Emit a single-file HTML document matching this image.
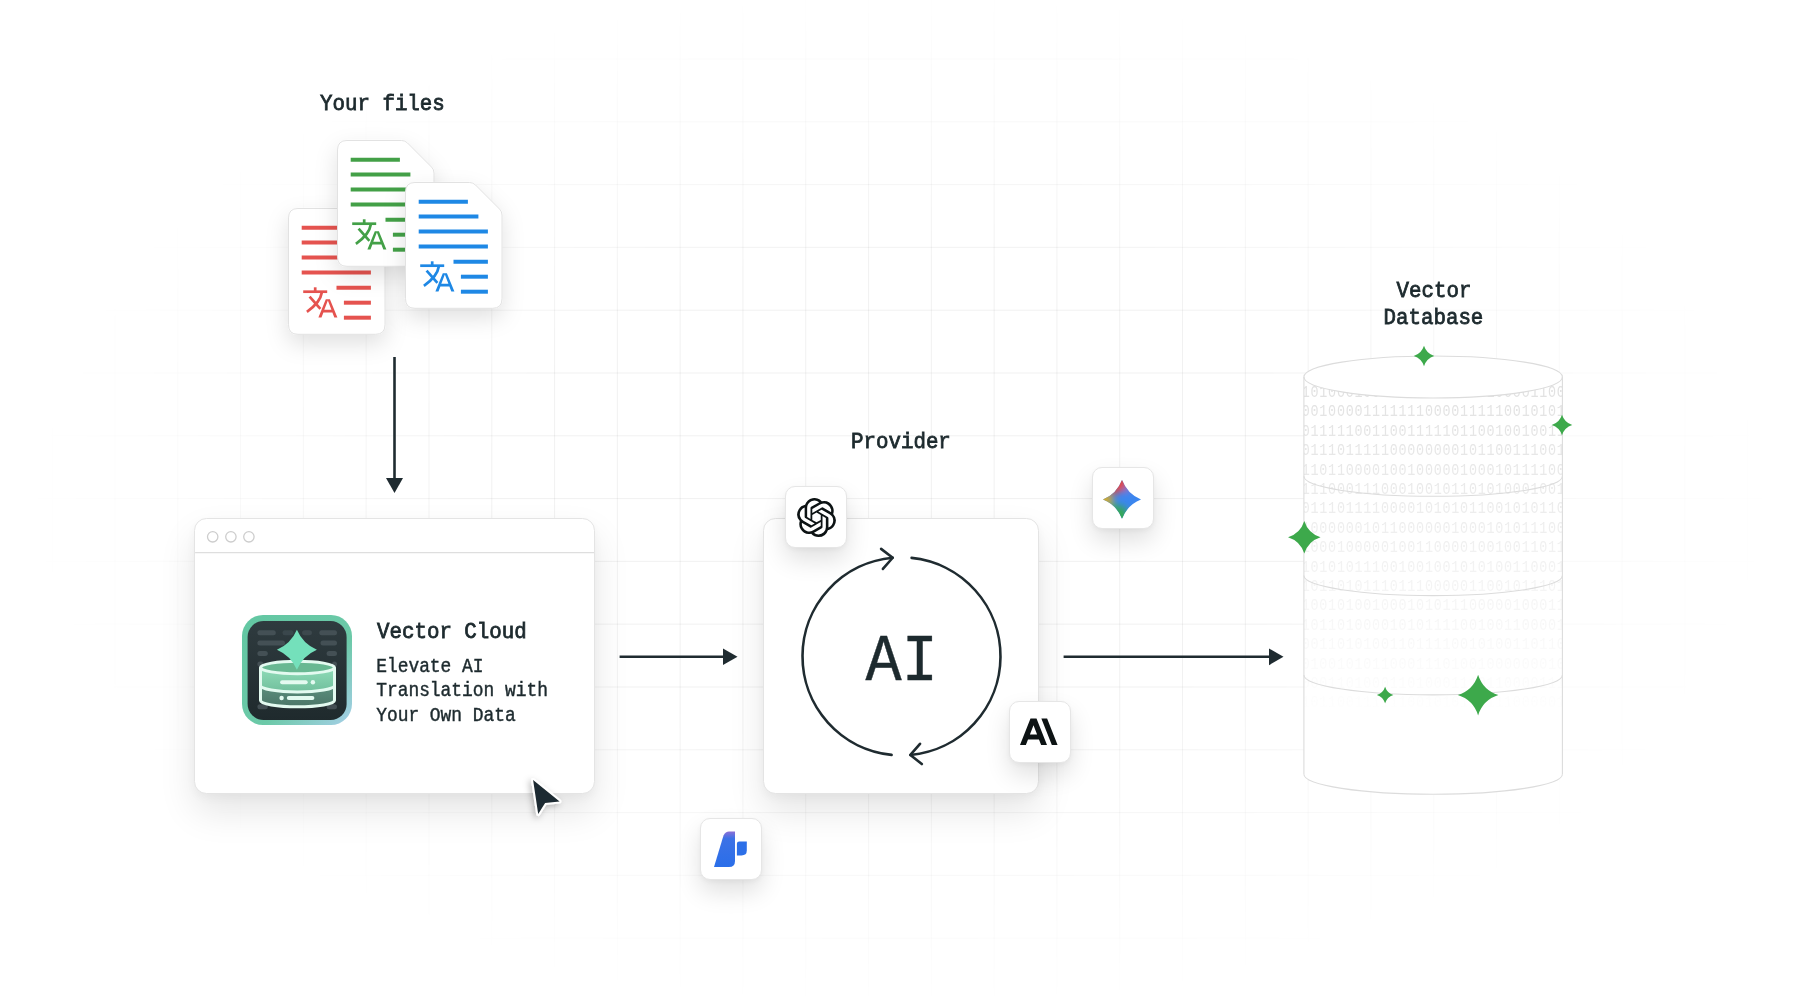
<!DOCTYPE html>
<html>
<head>
<meta charset="utf-8">
<style>
*{margin:0;padding:0;box-sizing:border-box;}
html,body{width:1800px;height:996px;overflow:hidden;background:#ffffff;}
body{position:relative;font-family:"Liberation Mono",monospace;color:#1d2a2e;}
.abs{position:absolute;}
#grid{position:absolute;left:0;top:0;width:1800px;height:996px;
 background-image:linear-gradient(to right,rgba(0,0,0,0.055) 1.3px,transparent 1.3px),linear-gradient(to bottom,rgba(0,0,0,0.055) 1.3px,transparent 1.3px);
 background-size:62.8px 62.8px;background-position:51.7px 58.5px;
 -webkit-mask-image:radial-gradient(ellipse 880px 520px at 900px 500px,#000 45%,transparent 100%);
 mask-image:radial-gradient(ellipse 880px 520px at 900px 500px,#000 45%,transparent 100%);}
.lbl{position:absolute;font-weight:normal;-webkit-text-stroke:0.75px #1d2a2e;font-size:20.8px;line-height:1;white-space:pre;transform-origin:0 0;}
.card{position:absolute;background:#fff;border:1px solid #e4e4e4;border-radius:12.5px;box-shadow:0 18px 36px rgba(0,0,0,0.10),0 4px 10px rgba(0,0,0,0.035);}
.tile{position:absolute;width:62px;height:62px;background:#fff;border:1px solid #e6e6e6;border-radius:10px;box-shadow:0 12px 24px rgba(0,0,0,0.12),0 2px 5px rgba(0,0,0,0.04);}
.tile svg{position:absolute;}
.file{position:absolute;}
</style>
</head>
<body>
<div id="grid"></div>

<!-- Your files -->
<div class="lbl" id="t_files" style="left:320px;top:93.1px;transform:scaleY(1.1);">Your files</div>

<!-- files -->
<div id="files"><svg width="0" height="0" style="position:absolute"><defs><filter id="fsh" x="-50%" y="-50%" width="200%" height="200%"><feDropShadow dx="0" dy="9" stdDeviation="11" flood-color="#000" flood-opacity="0.12"/></filter><filter id="csh" x="-50%" y="-50%" width="200%" height="200%"><feDropShadow dx="-2" dy="2" stdDeviation="3" flood-color="#000" flood-opacity="0.25"/></filter></defs></svg><svg class="file" style="left:267.6px;top:187.8px;overflow:visible" width="137.5" height="166.8" viewBox="-20 -20 137.5 166.8"><path d="M10,0.5 H64.5 Q68.0,0.5 70.5,3 L94.5,27 Q97.0,29.5 97.0,33 V116.8 Q97.0,126.3 87.5,126.3 H10 Q0.5,126.3 0.5,116.8 V10 Q0.5,0.5 10,0.5 Z" fill="#fff" stroke="#e2e2e2" stroke-width="1" filter="url(#fsh)"/><g stroke="#E5534F" stroke-width="4" fill="none"><line x1="13.7" y1="19.7" x2="62.9" y2="19.7"/><line x1="13.7" y1="34.6" x2="73.4" y2="34.6"/><line x1="13.7" y1="49.6" x2="82.9" y2="49.6"/><line x1="13.7" y1="64.6" x2="82.9" y2="64.6"/><line x1="48.5" y1="79.7" x2="82.9" y2="79.7"/><line x1="55.9" y1="94.7" x2="82.9" y2="94.7"/><line x1="55.9" y1="109.7" x2="82.9" y2="109.7"/></g><g stroke="#E5534F" stroke-width="2.7" fill="none" stroke-linecap="butt"><line x1="15.2" y1="83.7" x2="39.2" y2="83.7"/><line x1="27.2" y1="79.3" x2="27.2" y2="83"/><path d="M33.8 84.5 C32.7 92.2 26.2 98.7 18.9 103.8"/><line x1="21.6" y1="88.6" x2="32.4" y2="100.8"/></g><path fill="#E5534F" d="M37.8 91.3 H41.9 L49.4 109.4 H46.3 L44.4 104.4 H35.4 L33.5 109.4 H30.4 Z M36.3 101.8 H43.4 L39.85 92.6 Z" fill-rule="evenodd"/></svg><svg class="file" style="left:316.6px;top:120px;overflow:visible" width="137.5" height="166.8" viewBox="-20 -20 137.5 166.8"><path d="M10,0.5 H64.5 Q68.0,0.5 70.5,3 L94.5,27 Q97.0,29.5 97.0,33 V116.8 Q97.0,126.3 87.5,126.3 H10 Q0.5,126.3 0.5,116.8 V10 Q0.5,0.5 10,0.5 Z" fill="#fff" stroke="#e2e2e2" stroke-width="1" filter="url(#fsh)"/><g stroke="#43A047" stroke-width="4" fill="none"><line x1="13.7" y1="19.7" x2="62.9" y2="19.7"/><line x1="13.7" y1="34.6" x2="73.4" y2="34.6"/><line x1="13.7" y1="49.6" x2="82.9" y2="49.6"/><line x1="13.7" y1="64.6" x2="82.9" y2="64.6"/><line x1="48.5" y1="79.7" x2="82.9" y2="79.7"/><line x1="55.9" y1="94.7" x2="82.9" y2="94.7"/><line x1="55.9" y1="109.7" x2="82.9" y2="109.7"/></g><g stroke="#43A047" stroke-width="2.7" fill="none" stroke-linecap="butt"><line x1="15.2" y1="83.7" x2="39.2" y2="83.7"/><line x1="27.2" y1="79.3" x2="27.2" y2="83"/><path d="M33.8 84.5 C32.7 92.2 26.2 98.7 18.9 103.8"/><line x1="21.6" y1="88.6" x2="32.4" y2="100.8"/></g><path fill="#43A047" d="M37.8 91.3 H41.9 L49.4 109.4 H46.3 L44.4 104.4 H35.4 L33.5 109.4 H30.4 Z M36.3 101.8 H43.4 L39.85 92.6 Z" fill-rule="evenodd"/></svg><svg class="file" style="left:384.8px;top:161.5px;overflow:visible" width="137.5" height="166.8" viewBox="-20 -20 137.5 166.8"><path d="M10,0.5 H64.5 Q68.0,0.5 70.5,3 L94.5,27 Q97.0,29.5 97.0,33 V116.8 Q97.0,126.3 87.5,126.3 H10 Q0.5,126.3 0.5,116.8 V10 Q0.5,0.5 10,0.5 Z" fill="#fff" stroke="#e2e2e2" stroke-width="1" filter="url(#fsh)"/><g stroke="#1E88E5" stroke-width="4" fill="none"><line x1="13.7" y1="19.7" x2="62.9" y2="19.7"/><line x1="13.7" y1="34.6" x2="73.4" y2="34.6"/><line x1="13.7" y1="49.6" x2="82.9" y2="49.6"/><line x1="13.7" y1="64.6" x2="82.9" y2="64.6"/><line x1="48.5" y1="79.7" x2="82.9" y2="79.7"/><line x1="55.9" y1="94.7" x2="82.9" y2="94.7"/><line x1="55.9" y1="109.7" x2="82.9" y2="109.7"/></g><g stroke="#1E88E5" stroke-width="2.7" fill="none" stroke-linecap="butt"><line x1="15.2" y1="83.7" x2="39.2" y2="83.7"/><line x1="27.2" y1="79.3" x2="27.2" y2="83"/><path d="M33.8 84.5 C32.7 92.2 26.2 98.7 18.9 103.8"/><line x1="21.6" y1="88.6" x2="32.4" y2="100.8"/></g><path fill="#1E88E5" d="M37.8 91.3 H41.9 L49.4 109.4 H46.3 L44.4 104.4 H35.4 L33.5 109.4 H30.4 Z M36.3 101.8 H43.4 L39.85 92.6 Z" fill-rule="evenodd"/></svg></div>

<!-- down arrow -->
<svg class="abs" style="left:380px;top:350px" width="30" height="150" viewBox="380 350 30 150">
 <line x1="394.5" y1="357" x2="394.5" y2="480" stroke="#1f2b30" stroke-width="2.6"/>
 <path d="M386 478 L403 478 L394.5 493 Z" fill="#1f2b30"/>
</svg>

<!-- Browser card -->
<div class="card" style="left:194px;top:518px;width:401px;height:276px;"></div>

<!-- browser header -->
<svg class="abs" style="left:194.4px;top:518px" width="400" height="40" viewBox="-0.6 0 400 40">
 <circle cx="18.1" cy="18.8" r="5.2" fill="none" stroke="#cdcdcd" stroke-width="1.3"/>
 <circle cx="36.3" cy="18.8" r="5.2" fill="none" stroke="#cdcdcd" stroke-width="1.3"/>
 <circle cx="54.3" cy="18.8" r="5.2" fill="none" stroke="#cdcdcd" stroke-width="1.3"/>
 <line x1="0.5" y1="34.6" x2="400" y2="34.6" stroke="#dedede" stroke-width="1.2"/>
</svg>
<!-- app icon -->
<svg class="abs" style="left:241px;top:614px" width="112" height="112" viewBox="0 0 112 112">
 <defs>
  <filter id="pblur" x="-20%" y="-50%" width="140%" height="200%"><feGaussianBlur stdDeviation="0.6"/></filter>
  <linearGradient id="ibrd" x1="0" y1="0" x2="1" y2="1">
   <stop offset="0" stop-color="#62c7a2"/>
   <stop offset="0.6" stop-color="#6cc9a8"/>
   <stop offset="1" stop-color="#a6cfe8"/>
  </linearGradient>
  <linearGradient id="idark" x1="0" y1="0" x2="0" y2="1">
   <stop offset="0" stop-color="#2f3b3f"/>
   <stop offset="1" stop-color="#1f2a2d"/>
  </linearGradient>
  <linearGradient id="icyl1" x1="0" y1="0" x2="0" y2="1">
   <stop offset="0" stop-color="#8fdcb8"/>
   <stop offset="1" stop-color="#5fae8c"/>
  </linearGradient>
  <linearGradient id="icyl2" x1="0" y1="0" x2="0" y2="1">
   <stop offset="0" stop-color="#5c8f7d"/>
   <stop offset="1" stop-color="#4b7668"/>
  </linearGradient>
 </defs>
 <rect x="1" y="1" width="110" height="110" rx="21" fill="url(#ibrd)"/>
 <rect x="6.6" y="7" width="99" height="99" rx="16" fill="url(#idark)"/>
 <g fill="#48555a" opacity="0.85" filter="url(#pblur)">
  <rect x="16.4" y="16.2" width="18.4" height="5" rx="2.5"/>
  <rect x="41.5" y="16.2" width="11" height="5" rx="2.5" opacity="0.6"/>
  <rect x="61.1" y="16.2" width="9.8" height="5" rx="2.5" opacity="0.7"/>
  <rect x="78.3" y="16.2" width="17.7" height="5" rx="2.5"/>
  <rect x="16.4" y="26.6" width="27.6" height="5" rx="2.5"/>
  <rect x="79.5" y="26.6" width="16.5" height="5" rx="2.5"/>
  <rect x="16.4" y="37" width="10.4" height="5" rx="2.5"/>
  <rect x="85.6" y="37" width="10.4" height="5" rx="2.5"/>
  <rect x="16.4" y="47.4" width="6" height="5" rx="2.5"/>
  <rect x="91" y="47.4" width="5" height="5" rx="2.5"/>
  <rect x="16.4" y="90.3" width="10.4" height="5" rx="2.5"/>
  <rect x="85.6" y="90.3" width="10.4" height="5" rx="2.5"/>
 </g>
 <!-- cylinder -->
 <path d="M19.5 53.5 V 86.5 A 37 6.3 0 0 0 93.5 86.5 V 53.5 Z" fill="url(#icyl1)"/>
 <path d="M19.5 71.5 V 86.5 A 37 6.3 0 0 0 93.5 86.5 V 71.5 A 37 6.5 0 0 1 19.5 71.5 Z" fill="url(#icyl2)"/>
 <ellipse cx="56.5" cy="53.5" rx="37" ry="6.2" fill="#68b892"/>
 <g fill="none" stroke="#e3faf0" stroke-width="3">
  <ellipse cx="56.5" cy="53.5" rx="37" ry="6.2"/>
  <path d="M19.5 53.5 V 86.5 A 37 6.3 0 0 0 93.5 86.5 V 53.5"/>
  <path d="M19.5 71.5 A 37 6.5 0 0 0 93.5 71.5"/>
 </g>
 <path d="M55.90 15.80 Q61.90 29.80 75.90 35.80 Q61.90 41.80 55.90 55.80 Q49.90 41.80 35.90 35.80 Q49.90 29.80 55.90 15.80 Z" fill="#74e0bb"/>
 <g fill="#e3faf0">
  <rect x="39.1" y="66.3" width="27.6" height="4" rx="2"/>
  <circle cx="71.9" cy="68.3" r="2.2"/>
  <rect x="45.8" y="82" width="27.6" height="4" rx="2"/>
  <circle cx="40.6" cy="84" r="2.2"/>
 </g>
</svg>
<div class="lbl" id="t_vc" style="left:377px;top:621px;transform:scaleY(1.1);">Vector Cloud</div>
<div class="abs" id="desc" style="left:376.2px;top:654.8px;font-size:17.9px;line-height:22.31px;white-space:pre;transform-origin:0 0;transform:scaleY(1.08);-webkit-text-stroke:0.4px #1d2a2e;">Elevate AI
Translation with
Your Own Data</div>
<!-- cursor -->
<svg class="abs" style="left:525px;top:772px;overflow:visible" width="45" height="50" viewBox="525 772 45 50">
 <path d="M533.1 780.1 L559.6 801.4 L545.1 803 L538.2 814.1 Z" fill="#1f2b30" stroke="#fff" stroke-width="4" stroke-linejoin="round" paint-order="stroke" filter="url(#csh)"/>
</svg>

<!-- Provider card -->
<div class="card" style="left:763px;top:518px;width:276px;height:276px;"></div>

<!-- circle arrows -->
<svg class="abs" style="left:780px;top:530px" width="240" height="250" viewBox="780 530 240 250">
 <g fill="none" stroke="#1f2b30" stroke-width="2.6" stroke-linecap="round" stroke-linejoin="round">
  <path d="M891.6 754.85 A99 99 0 0 1 892.7 557.74"/>
  <path d="M881.1 548.9 L892.7 557.74 L882.9 568.9"/>
  <path d="M911.6 557.87 A99 99 0 0 1 910.4 754.95"/>
  <path d="M920 743.8 L910.4 754.95 L921.8 764"/>
 </g>
</svg>
<div class="abs" id="ai" style="left:865.6px;top:629px;transform:scaleY(1.1);font-size:60.2px;-webkit-text-stroke:0.4px #1d2a2e;line-height:1;white-space:pre;transform-origin:0 0;">AI</div>
<!-- tiles -->
<div class="tile" style="left:785px;top:486px;">
 <svg style="left:10.6px;top:11px" width="39" height="39" viewBox="0 0 24 24"><path fill="#0d1314" d="M22.2819 9.8211a5.9847 5.9847 0 0 0-.5157-4.9108 6.0462 6.0462 0 0 0-6.5098-2.9A6.0651 6.0651 0 0 0 4.9807 4.1818a5.9847 5.9847 0 0 0-3.9977 2.9 6.0462 6.0462 0 0 0 .7427 7.0966 5.98 5.98 0 0 0 .511 4.9107 6.051 6.051 0 0 0 6.5146 2.9001A5.9847 5.9847 0 0 0 13.2599 24a6.0557 6.0557 0 0 0 5.7718-4.2058 5.9894 5.9894 0 0 0 3.9977-2.9001 6.0557 6.0557 0 0 0-.7475-7.0729zm-9.022 12.6081a4.4755 4.4755 0 0 1-2.8764-1.0408l.1419-.0804 4.7783-2.7582a.7948.7948 0 0 0 .3927-.6813v-6.7369l2.02 1.1686a.071.071 0 0 1 .038.052v5.5826a4.504 4.504 0 0 1-4.4945 4.4944zm-9.6607-4.1254a4.4708 4.4708 0 0 1-.5346-3.0137l.142.0852 4.783 2.7582a.7712.7712 0 0 0 .7806 0l5.8428-3.3685v2.3324a.0804.0804 0 0 1-.0332.0615L9.74 19.9502a4.4992 4.4992 0 0 1-6.1408-1.6464zM2.3408 7.8956a4.485 4.485 0 0 1 2.3655-1.9728V11.6a.7664.7664 0 0 0 .3879.6765l5.8144 3.3543-2.0201 1.1685a.0757.0757 0 0 1-.071 0l-4.8303-2.7865A4.504 4.504 0 0 1 2.3408 7.872zm16.5963 3.8558L13.1038 8.364 15.1192 7.2a.0757.0757 0 0 1 .071 0l4.8303 2.7913a4.4944 4.4944 0 0 1-.6765 8.1042v-5.6772a.79.79 0 0 0-.407-.667zm2.0107-3.0231l-.142-.0852-4.7735-2.7818a.7759.7759 0 0 0-.7854 0L9.409 9.2297V6.8974a.0662.0662 0 0 1 .0284-.0615l4.8303-2.7866a4.4992 4.4992 0 0 1 6.6802 4.66zM8.3065 12.863l-2.02-1.1638a.0804.0804 0 0 1-.038-.0567V6.0742a4.4992 4.4992 0 0 1 7.3757-3.4537l-.142.0805L8.704 5.459a.7948.7948 0 0 0-.3927.6813zm1.0976-2.3654l2.602-1.4998 2.6069 1.4998v2.9994l-2.5974 1.4997-2.6067-1.4997Z"/></svg>
</div>
<div class="tile" style="left:1092px;top:467px;">
 <svg style="left:9.9px;top:11.6px;overflow:visible" width="38" height="38.8" viewBox="0 0 24 24" preserveAspectRatio="none">
  <defs>
   <clipPath id="gemc"><path d="M12 0 Q15.36 8.64 24 12 Q15.36 15.36 12 24 Q8.64 15.36 0 12 Q8.64 8.64 12 0 Z"/></clipPath>
   <filter id="gemb" x="-50%" y="-50%" width="200%" height="200%"><feGaussianBlur stdDeviation="2.2"/></filter>
  </defs>
  <g clip-path="url(#gemc)">
   <rect x="-2" y="-2" width="28" height="28" fill="#3b86ef"/>
   <g filter="url(#gemb)">
    <ellipse cx="11" cy="1" rx="4" ry="6" fill="#ea4335"/>
    <ellipse cx="7" cy="6" rx="3" ry="3" fill="#e8483a"/>
    <ellipse cx="0" cy="12" rx="6" ry="4" fill="#dcae22"/>
    <ellipse cx="11" cy="23" rx="5" ry="7" fill="#34a853"/>
    <ellipse cx="6" cy="17" rx="3" ry="3" fill="#3aa860"/>
    <ellipse cx="15" cy="6" rx="2" ry="2" fill="#9b72cb"/>
   </g>
  </g>
 </svg>
</div>
<div class="tile" style="left:1009px;top:701px;">
 <svg style="left:10.4px;top:11.2px" width="37.6" height="37.6" viewBox="0 0 24 24"><path fill="#0d1314" d="M17.3041 3.541h-3.6718l6.696 16.918H24Zm-10.6082 0L0 20.459h3.7442l1.3693-3.5527h7.0052l1.3693 3.5528h3.7442L10.5363 3.5409Zm-.3712 10.2232 2.2914-5.9456 2.2914 5.9456Z"/></svg>
</div>
<div class="tile" style="left:700px;top:818px;">
 <svg style="left:-1.2px;top:0.1px" width="61" height="61" viewBox="0 0 61 61">
  <defs><linearGradient id="blg" x1="0" y1="0" x2="0" y2="1"><stop offset="0" stop-color="#8c6fd6"/><stop offset="0.2" stop-color="#3c72e6"/><stop offset="1" stop-color="#2a6ee9"/></linearGradient></defs>
  <path d="M14 48 L23.5 16.5 Q25.5 12.5 29 12.5 H35 V42 Q35 48 29 48 Z" fill="url(#blg)"/>
  <path d="M36.9 24.7 Q36.9 22.4 39.2 22.4 H46.8 V31.5 Q46.8 36.4 41.5 36.4 H36.9 Z" fill="#2c6fe8"/>
 </svg>
</div>

<!-- arrows horizontal -->
<svg class="abs" style="left:0;top:0" width="1800" height="996" viewBox="0 0 1800 996">
 <line x1="619.6" y1="656.8" x2="726" y2="656.8" stroke="#1f2b30" stroke-width="2.6"/>
 <path d="M723 648.6 L737.5 656.8 L723 665 Z" fill="#1f2b30"/>
 <line x1="1063.6" y1="656.8" x2="1272" y2="656.8" stroke="#1f2b30" stroke-width="2.6"/>
 <path d="M1269 648.4 L1283.5 656.8 L1269 665.2 Z" fill="#1f2b30"/>
</svg>

<div class="lbl" id="t_prov" style="left:851px;top:430.5px;transform:scaleY(1.1);">Provider</div>
<div class="lbl" id="t_v" style="left:1396.5px;top:280.4px;transform:scaleY(1.1);">Vector</div>
<div class="lbl" id="t_db" style="left:1383.5px;top:307.3px;transform:scaleY(1.1);">Database</div>
<!-- DB -->
<svg class="abs" style="left:1280px;top:330px" width="310" height="490" viewBox="1280 330 310 490"><defs><clipPath id="dbclip"><path d="M1303.9 377 V774.2 A129.25 20 0 0 0 1562.4 774.2 V377 Z"/></clipPath><linearGradient id="dbfade" x1="0" y1="0" x2="0" y2="1" gradientUnits="objectBoundingBox"><stop offset="0" stop-color="#fff" stop-opacity="1"/><stop offset="0.25" stop-color="#fff" stop-opacity="0.75"/><stop offset="0.55" stop-color="#fff" stop-opacity="0.4"/><stop offset="0.8" stop-color="#fff" stop-opacity="0.15"/><stop offset="1" stop-color="#fff" stop-opacity="0"/></linearGradient><mask id="dbmask" maskUnits="userSpaceOnUse" x="1303.9" y="370" width="258.5" height="360"><rect x="1303.9" y="370" width="258.5" height="360" fill="url(#dbfade)"/></mask></defs><path d="M1303.9 377 V774.2 A129.25 20 0 0 0 1562.4 774.2 V377 Z" fill="#fff"/><g clip-path="url(#dbclip)"><g mask="url(#dbmask)" fill="#e0e0e0" font-family="Liberation Mono" font-size="13.4" letter-spacing="0.76"><text x="1301.7" y="396.0" transform="translate(0 390.8) scale(1 1.2) translate(0 -390.8)">10100010000110001000010000110010</text><text x="1301.7" y="415.4" transform="translate(0 410.2) scale(1 1.2) translate(0 -410.2)">00100001111111000011111001010110</text><text x="1301.7" y="434.8" transform="translate(0 429.6) scale(1 1.2) translate(0 -429.6)">01111100110011111011001001001110</text><text x="1301.7" y="454.2" transform="translate(0 449.0) scale(1 1.2) translate(0 -449.0)">01110111110000000010110011100111</text><text x="1301.7" y="473.6" transform="translate(0 468.4) scale(1 1.2) translate(0 -468.4)">11011000010010000010001011110011</text><text x="1301.7" y="493.0" transform="translate(0 487.8) scale(1 1.2) translate(0 -487.8)">11100011100010010110101000100110</text><text x="1301.7" y="512.4" transform="translate(0 507.2) scale(1 1.2) translate(0 -507.2)">01110111100001010101100101011011</text><text x="1301.7" y="531.8" transform="translate(0 526.6) scale(1 1.2) translate(0 -526.6)">10000001011000000100010101110011</text><text x="1301.7" y="551.2" transform="translate(0 546.0) scale(1 1.2) translate(0 -546.0)">10001000001001100001001001101110</text><text x="1301.7" y="570.6" transform="translate(0 565.4) scale(1 1.2) translate(0 -565.4)">10101011100100100101010011000111</text><text x="1301.7" y="590.0" transform="translate(0 584.8) scale(1 1.2) translate(0 -584.8)">10110101110111000001100101110110</text><text x="1301.7" y="609.4" transform="translate(0 604.2) scale(1 1.2) translate(0 -604.2)">10010100100010101110000010001101</text><text x="1301.7" y="628.8" transform="translate(0 623.6) scale(1 1.2) translate(0 -623.6)">10110100001010111100100110000110</text><text x="1301.7" y="648.2" transform="translate(0 643.0) scale(1 1.2) translate(0 -643.0)">00110101001101111001010011011000</text><text x="1301.7" y="667.6" transform="translate(0 662.4) scale(1 1.2) translate(0 -662.4)">01001010110001110100100000001011</text><text x="1301.7" y="687.0" transform="translate(0 681.8) scale(1 1.2) translate(0 -681.8)">00011010001101000111011000011100</text><text x="1301.7" y="706.4" transform="translate(0 701.2) scale(1 1.2) translate(0 -701.2)">10110011111100101011011100000110</text></g></g><ellipse cx="1433.15" cy="377" rx="129.25" ry="21" fill="#fff" stroke="#dcdcdc" stroke-width="1.1"/><path d="M1303.9 377 V774.2 M1562.4 377 V774.2" fill="none" stroke="#dcdcdc" stroke-width="1.1"/><path d="M1303.9 476.3 A129.25 20 0 0 0 1562.4 476.3" fill="none" stroke="#dcdcdc" stroke-width="1.1"/><path d="M1303.9 575.6 A129.25 20 0 0 0 1562.4 575.6" fill="none" stroke="#dcdcdc" stroke-width="1.1"/><path d="M1303.9 674.9 A129.25 20 0 0 0 1562.4 674.9" fill="none" stroke="#dcdcdc" stroke-width="1.1"/><path d="M1303.9 774.2 A129.25 20 0 0 0 1562.4 774.2" fill="none" stroke="#dcdcdc" stroke-width="1.1"/><path d="M1424.00 345.75 Q1426.46 353.54 1434.25 356.00 Q1426.46 358.46 1424.00 366.25 Q1421.54 358.46 1413.75 356.00 Q1421.54 353.54 1424.00 345.75 Z" fill="#3da94b"/><path d="M1562.00 414.75 Q1564.46 422.54 1572.25 425.00 Q1564.46 427.46 1562.00 435.25 Q1559.54 427.46 1551.75 425.00 Q1559.54 422.54 1562.00 414.75 Z" fill="#3da94b"/><path d="M1304.30 521.05 Q1308.20 533.40 1320.55 537.30 Q1308.20 541.20 1304.30 553.55 Q1300.40 541.20 1288.05 537.30 Q1300.40 533.40 1304.30 521.05 Z" fill="#3da94b"/><path d="M1385.10 686.75 Q1387.08 693.02 1393.35 695.00 Q1387.08 696.98 1385.10 703.25 Q1383.12 696.98 1376.85 695.00 Q1383.12 693.02 1385.10 686.75 Z" fill="#3da94b"/><path d="M1478.10 674.80 Q1482.97 690.23 1498.40 695.10 Q1482.97 699.97 1478.10 715.40 Q1473.23 699.97 1457.80 695.10 Q1473.23 690.23 1478.10 674.80 Z" fill="#3da94b"/></svg>
<!-- /DB -->
</body>
</html>
